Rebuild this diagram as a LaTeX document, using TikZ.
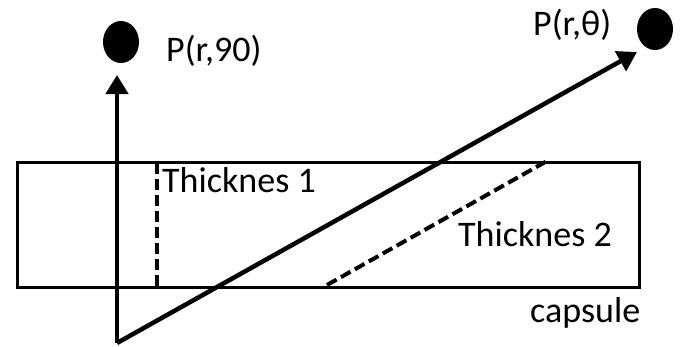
\documentclass[tikz,border=0pt]{standalone}
\usepackage{fontspec}
\setmainfont{Carlito}
\usetikzlibrary{arrows.meta,shapes.geometric}
\begin{document}
\begin{tikzpicture}[x=1pt,y=-1pt,
  lbl/.style={anchor=base west,inner sep=0pt,font=\fontsize{36}{40}\selectfont},
  dot/.style={ellipse,fill=black,draw=none,minimum width=36pt,minimum height=42pt,inner sep=0pt},
  ray/.style={line width=4.5pt,-{Triangle[width=22pt,length=19pt]}},
  cut/.style={line width=4pt,dash pattern=on 11pt off 5pt}]
\useasboundingbox (0,0) rectangle (680,346);
\node[draw,line width=2.8pt,minimum width=622pt,minimum height=125pt,inner sep=0pt,anchor=north west] (capsule) at (16,161) {};
\coordinate (O) at (117,343);
\coordinate (T90) at (117,75);
\coordinate (Tth) at (637,52);
\node[dot] (d90) at (121,42) {};
\node[dot] (dth) at (655,29) {};
\node[lbl] (p90) at (166,61) {P(r,90)};
\node[lbl] (pth) at (533,35) {P(r,θ)};
\node[lbl] (t1) at (162,192) {Thicknes 1};
\node[lbl] (t2) at (458,246) {Thicknes 2};
\node[lbl] (cap) at (530,322) {capsule};
\coordinate (a1) at (157,162);
\coordinate (b1) at (157,286);
\coordinate (a2) at (327,285);
\coordinate (b2) at (547,161);
\draw[cut] (b1) -- (a1);
\draw[cut] (a2) -- (b2);
\draw[ray] (O) -- (T90);
\draw[ray] (O) -- (Tth);
\end{tikzpicture}
\end{document}
